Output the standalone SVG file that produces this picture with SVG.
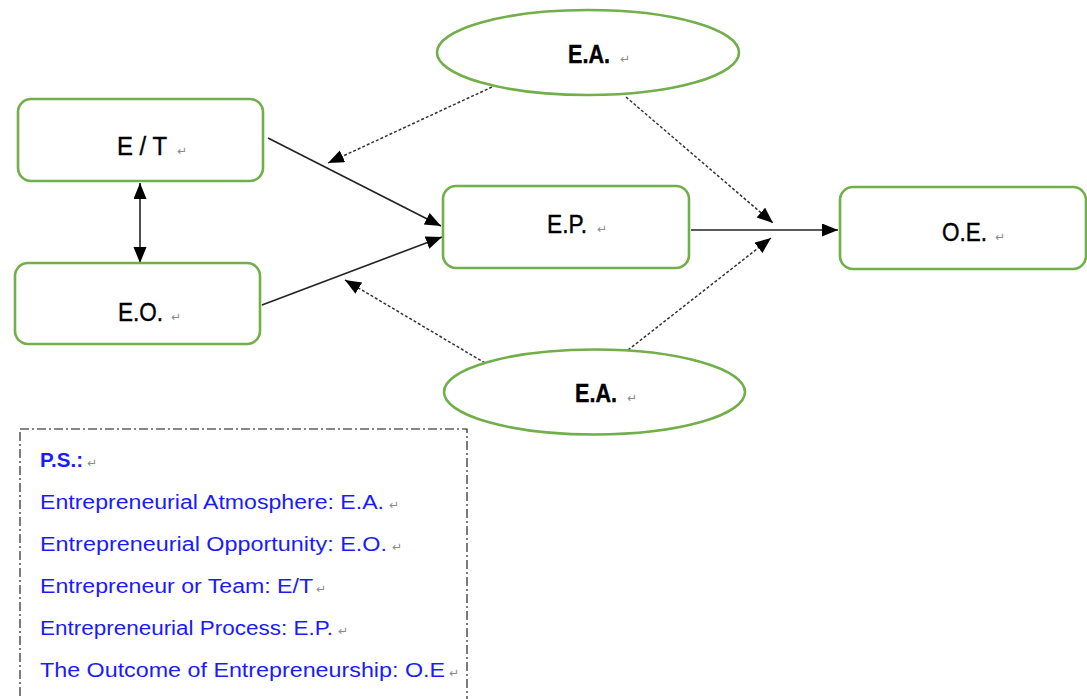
<svg xmlns="http://www.w3.org/2000/svg" width="1087" height="699" viewBox="0 0 1087 699">
<style>
.node{fill:#fff;stroke:#72AE4A;stroke-width:2.6}
.lbl{font-family:"Liberation Sans",Arial,sans-serif;font-size:26px;fill:#000;stroke:#000;stroke-width:0.4}
.ret{font-family:"DejaVu Sans",sans-serif;font-size:12px;fill:#8a8a8a}
.solid{fill:none;stroke:#222;stroke-width:1.6}
.dash{fill:none;stroke:#333;stroke-width:1.5;stroke-dasharray:3 2}
.leg{font-family:"Liberation Sans",Arial,sans-serif;font-size:20px;fill:#1a1aff}
</style>
<defs>
<marker id="ah" markerUnits="userSpaceOnUse" markerWidth="17" markerHeight="14" refX="16" refY="6.5" orient="auto-start-reverse" viewBox="0 0 17 14">
<path d="M0,0 L16,6.5 L0,13 z" fill="#000"/>
</marker>
</defs>
<rect width="1087" height="699" fill="#fff"/>

<g id="connectors">
<path class="solid" d="M268,138 L441,226" marker-end="url(#ah)"/>
<path class="solid" d="M262,305 L442,237" marker-end="url(#ah)"/>
<path class="dash" d="M492,87 L328,163" marker-end="url(#ah)"/>
<path class="dash" d="M485,363 L345,280" marker-end="url(#ah)"/>
<path class="dash" d="M626,97 L773,223" marker-end="url(#ah)"/>
<path class="dash" d="M628,350 L771,238" marker-end="url(#ah)"/>
<path class="solid" d="M691,230 L838,230" marker-end="url(#ah)"/>
<path class="solid" d="M140,183 L140,263" marker-start="url(#ah)" marker-end="url(#ah)"/>
</g>

<g id="node-et">
<rect class="node" x="18" y="99" width="245" height="82" rx="13"/>
<text class="lbl" x="117" y="155" textLength="50" lengthAdjust="spacingAndGlyphs">E / T</text>
<text class="ret" x="177" y="155">↵</text>
</g>
<g id="node-eo">
<rect class="node" x="15" y="263" width="245" height="81" rx="13"/>
<text class="lbl" x="118" y="321" textLength="45" lengthAdjust="spacingAndGlyphs">E.O.</text>
<text class="ret" x="171" y="321">↵</text>
</g>
<g id="node-ep">
<rect class="node" x="443" y="186" width="246" height="82" rx="13"/>
<text class="lbl" x="547" y="233" textLength="40" lengthAdjust="spacingAndGlyphs">E.P.</text>
<text class="ret" x="597" y="233">↵</text>
</g>
<g id="node-oe">
<rect class="node" x="840" y="187" width="246" height="82" rx="13"/>
<text class="lbl" x="942" y="241" textLength="45" lengthAdjust="spacingAndGlyphs">O.E.</text>
<text class="ret" x="995" y="241">↵</text>
</g>
<g id="node-ea-top">
<ellipse class="node" cx="588" cy="52.5" rx="151" ry="42.5"/>
<text class="lbl" x="568" y="63" textLength="42" lengthAdjust="spacingAndGlyphs" font-weight="bold">E.A.</text>
<text class="ret" x="620" y="63">↵</text>
</g>
<g id="node-ea-bottom">
<ellipse class="node" cx="594.5" cy="392" rx="150.5" ry="42.5"/>
<text class="lbl" x="575" y="402" textLength="42" lengthAdjust="spacingAndGlyphs" font-weight="bold">E.A.</text>
<text class="ret" x="627" y="402">↵</text>
</g>

<g id="legend">
<rect x="20" y="429" width="447" height="290" fill="none" stroke="#111" stroke-width="1.1" stroke-dasharray="9 3 2 3"/>
<text class="leg" x="40" y="467" font-weight="bold" textLength="43" lengthAdjust="spacingAndGlyphs">P.S.:</text>
<text class="ret" x="87" y="467">↵</text>
<text class="leg" x="40" y="509" textLength="344" lengthAdjust="spacingAndGlyphs">Entrepreneurial Atmosphere: E.A.</text>
<text class="ret" x="389" y="509">↵</text>
<text class="leg" x="40" y="551" textLength="347" lengthAdjust="spacingAndGlyphs">Entrepreneurial Opportunity: E.O.</text>
<text class="ret" x="392" y="551">↵</text>
<text class="leg" x="40" y="593" textLength="273" lengthAdjust="spacingAndGlyphs">Entrepreneur or Team: E/T</text>
<text class="ret" x="316" y="593">↵</text>
<text class="leg" x="40" y="635" textLength="293" lengthAdjust="spacingAndGlyphs">Entrepreneurial Process: E.P.</text>
<text class="ret" x="338" y="635">↵</text>
<text class="leg" x="40" y="677" textLength="405" lengthAdjust="spacingAndGlyphs">The Outcome of Entrepreneurship: O.E</text>
<text class="ret" x="449" y="677">↵</text>
</g>
</svg>
